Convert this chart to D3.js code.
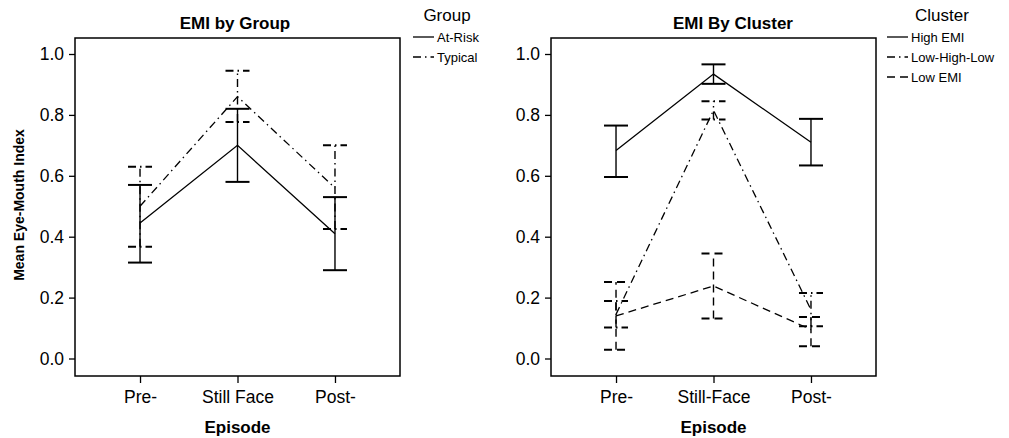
<!DOCTYPE html>
<html><head><meta charset="utf-8">
<script src="https://cdn.jsdelivr.net/npm/d3@7"></script>
<style>body{margin:0;background:#fff}svg{display:block}text{font-family:"Liberation Sans",Arial,sans-serif;fill:#000}</style>
</head><body><svg id="c" width="1009" height="438"></svg>
<script>
// ---- data ----
const episodesLeft = ["Pre-", "Still Face", "Post-"];
const episodesRight = ["Pre-", "Still-Face", "Post-"];
const yTicks = [0.0, 0.2, 0.4, 0.6, 0.8, 1.0];

const atRiskMean = [0.445, 0.70, 0.41];
const atRiskLow  = [0.315, 0.58, 0.29];
const atRiskHigh = [0.57, 0.82, 0.53];

const typicalMean = [0.50, 0.86, 0.56];
const typicalLow  = [0.367, 0.777, 0.425];
const typicalHigh = [0.63, 0.945, 0.70];

const highEmiMean = [0.683, 0.934, 0.71];
const highEmiLow  = [0.596, 0.902, 0.634];
const highEmiHigh = [0.765, 0.966, 0.787];

const lhlMean = [0.145, 0.815, 0.16];
const lhlLow  = [0.102, 0.785, 0.106];
const lhlHigh = [0.189, 0.845, 0.215];

const lowEmiMean = [0.14, 0.238, 0.095];
const lowEmiLow  = [0.029, 0.131, 0.04];
const lowEmiHigh = [0.251, 0.345, 0.136];

const DASH = {solid: null, dashdot: "8,4,1.5,4", dashed: "8,5"};

const panels = [
  {left: 75, title: "EMI by Group", titleX: 235, legendTitle: "Group", legendX: 413, legendTitleX: 447,
   cats: episodesLeft, yLabel: "Mean Eye-Mouth Index",
   series: [
     {name: "At-Risk", style: "solid", mean: atRiskMean, lo: atRiskLow, hi: atRiskHigh},
     {name: "Typical", style: "dashdot", mean: typicalMean, lo: typicalLow, hi: typicalHigh}
   ]},
  {left: 551, title: "EMI By Cluster", titleX: 733, legendTitle: "Cluster", legendX: 887, legendTitleX: 942,
   cats: episodesRight, yLabel: null,
   series: [
     {name: "High EMI", style: "solid", mean: highEmiMean, lo: highEmiLow, hi: highEmiHigh},
     {name: "Low-High-Low", style: "dashdot", mean: lhlMean, lo: lhlLow, hi: lhlHigh},
     {name: "Low EMI", style: "dashed", mean: lowEmiMean, lo: lowEmiLow, hi: lowEmiHigh}
   ]}
];

const svg = d3.select("#c");
const boxTop = 38, boxBottom = 376, boxW = 325;

panels.forEach(p => {
  const g = svg.append("g");
  const x = d3.scalePoint().domain(p.cats).range([p.left, p.left + boxW]).padding(0.667);
  const y = d3.scaleLinear().domain([0, 1]).range([358.5, 54]);

  // box
  g.append("rect").attr("x", p.left).attr("y", boxTop).attr("width", boxW).attr("height", boxBottom - boxTop)
    .attr("fill", "none").attr("stroke", "#000").attr("stroke-width", 1.5);

  // y axis
  const ya = g.append("g").attr("transform", `translate(${p.left},0)`)
    .call(d3.axisLeft(y).tickValues(yTicks).tickFormat(d3.format(".1f")).tickSize(6).tickPadding(5));
  ya.select(".domain").remove();
  ya.selectAll("line").attr("stroke", "#000").attr("stroke-width", 1.3);
  ya.selectAll("text").attr("font-size", 17.5).attr("fill", "#000").attr("font-family", "Liberation Sans, Arial, sans-serif");

  // x axis
  const xa = g.append("g").attr("transform", `translate(0,${boxBottom})`)
    .call(d3.axisBottom(x).tickSize(7).tickPadding(8));
  xa.select(".domain").remove();
  xa.selectAll("line").attr("stroke", "#000").attr("stroke-width", 1.3);
  xa.selectAll("text").attr("font-size", 17.5).attr("fill", "#000").attr("font-family", "Liberation Sans, Arial, sans-serif");

  // titles
  g.append("text").attr("x", p.titleX).attr("y", 29).attr("text-anchor", "middle")
    .attr("font-size", 17).attr("font-weight", "bold").text(p.title);
  g.append("text").attr("x", x(p.cats[1])).attr("y", 433).attr("text-anchor", "middle")
    .attr("font-size", 17).attr("font-weight", "bold").text("Episode");
  if (p.yLabel) {
    g.append("text").attr("transform", `translate(24,205) rotate(-90)`).attr("text-anchor", "middle")
      .attr("font-size", 14).attr("font-weight", "bold").text(p.yLabel);
  }

  // series
  p.series.forEach(s => {
    const dash = DASH[s.style];
    const pts = p.cats.map((c, i) => ({c, m: s.mean[i], lo: s.lo[i], hi: s.hi[i]}));
    g.append("path").datum(pts)
      .attr("d", d3.line().x(d => x(d.c)).y(d => y(d.m)))
      .attr("fill", "none").attr("stroke", "#000").attr("stroke-width", 1.3)
      .attr("stroke-dasharray", dash);
    const eb = g.append("g");
    eb.selectAll("line.v").data(pts).join("line").attr("class", "v")
      .attr("x1", d => x(d.c)).attr("x2", d => x(d.c))
      .attr("y1", d => y(d.lo)).attr("y2", d => y(d.hi))
      .attr("stroke", "#000").attr("stroke-width", 1.4).attr("stroke-dasharray", dash);
    ["lo", "hi"].forEach(k => {
      eb.selectAll("line.c" + k).data(pts).join("line").attr("class", "c" + k)
        .attr("x1", d => x(d.c) - 12).attr("x2", d => x(d.c) + 12)
        .attr("y1", d => y(d[k])).attr("y2", d => y(d[k]))
        .attr("stroke", "#000").attr("stroke-width", 2).attr("stroke-dasharray", dash);
    });
  });

  // legend
  const lg = g.append("g");
  lg.append("text").attr("x", p.legendTitleX).attr("y", 21).attr("text-anchor", "middle")
    .attr("font-size", 17).text(p.legendTitle);
  p.series.forEach((s, i) => {
    const yy = 37 + i * 20;
    lg.append("line").attr("x1", p.legendX).attr("x2", p.legendX + 21).attr("y1", yy).attr("y2", yy)
      .attr("stroke", "#000").attr("stroke-width", 1.3).attr("stroke-dasharray", DASH[s.style]);
    lg.append("text").attr("x", p.legendX + 24).attr("y", yy + 4.5).attr("font-size", 13)
      .attr("fill", "#222").text(s.name);
  });
});
</script>
</body></html>
